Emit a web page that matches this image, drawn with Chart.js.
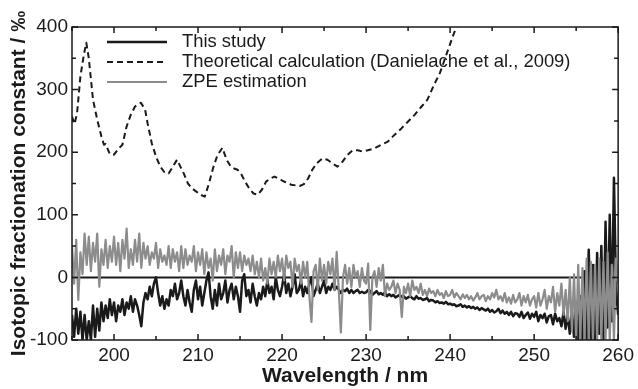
<!DOCTYPE html>
<html>
<head>
<meta charset="utf-8">
<script src="https://cdn.jsdelivr.net/npm/chart.js@4.4.1/dist/chart.umd.min.js"></script>
<style>
  html, body { margin: 0; padding: 0; background: #fff; }
  #wrap { width: 638px; height: 389px; }
</style>
</head>
<body>
<div id="wrap"><canvas id="grafico"></canvas></div>
<script>
// ===========================
// DATOS
// ===========================
// rejilla de longitud de onda para las dos series medidas (nm)
const startNm = 195;
const stepNm = 0.25;

// This study (‰), 4 valores por nm
const thisStudy = [
  -60, -95, -50, -90,   // 195
  -55, -100, -60, -100, // 196
  -70, -100, -45, -95,  // 197
  -50, -85, -40, -70,   // 198
  -45, -65, -35, -60,   // 199
  -40, -70, -45, -55,   // 200
  -35, -60, -40, -50,   // 201
  -30, -55, -35, -45,   // 202
  -60, -78, -40, -25,   // 203
  -35, -15, -30, -10,   // 204
  0, -25, -45, -30,     // 205
  -50, -35, -45, -20,   // 206
  -30, -10, -35, -25,   // 207
  -5, -30, -45, -20,    // 208
  -40, -55, -20, -5,    // 209
  -35, -15, -45, -25,   // 210
  -5, 8, -30, -50,      // 211
  -20, -45, -10, -35,   // 212
  -25, -5, -40, -20,    // 213
  -10, -35, -15, -30,   // 214
  -55, -5, 5, -30,      // 215
  -20, -40, -10, -30,   // 216
  -45, -25, -35, -15,   // 217
  -30, -5, -25, -15,    // 218
  -35, 0, -20, -30,     // 219
  -15, 5, -25, -10,     // 220
  -30, -15, 5, -25,     // 221
  -20, -5, -30, -15,    // 222
  -25, -10, 0, -30,     // 223
  -20, -10, -25, -15,   // 224
  -5, -25, -15, -20,    // 225
  -10, -20, -15, -20,   // 226
  -25, -20, -22, -18,   // 227
  -25, -20, -25, -22,   // 228
  -20, -25, -23, -25,   // 229
  -24, -20, -22, -28,   // 230
  -25, -22, -27, -25,   // 231
  -28, -24, -30, -27,   // 232
  -30, -28, -32, -30,   // 233
  -28, -31, -30, -34,   // 234
  -32, -30, -33, -35,   // 235
  -30, -34, -33, -36,   // 236
  -35, -33, -38, -36,   // 237
  -37, -40, -38, -41,   // 238
  -40, -42, -39, -43,   // 239
  -42, -44, -43, -46,   // 240
  -45, -43, -47, -45,   // 241
  -48, -46, -49, -47,   // 242
  -50, -48, -52, -49,   // 243
  -51, -53, -50, -55,   // 244
  -52, -56, -54, -50,   // 245
  -57, -53, -58, -55,   // 246
  -60, -55, -62, -57,   // 247
  -58, -63, -55, -65,   // 248
  -60, -56, -66, -58,   // 249
  -63, -55, -70, -60,   // 250
  -65, -58, -72, -62,   // 251
  -60, -75, -58, -70,   // 252
  -65, -78, -55, -82,   // 253
  -60, -90, -55, -95,   // 254
  -40, -100, -30, -100, // 255
  10, -100, 44, -100,   // 256
  20, -100, 39, -90,    // 257
  50, -100, 89, -80,    // 258
  100, -70, 159, -20,   // 259
  -60                   // 260
];

// ZPE estimation (‰)
const zpeEstimation = [
  50, -10, 60, -36,     // 195
  40, 5, 70, 20,        // 196
  65, 10, 55, 25,       // 197
  70, -15, 45, 20,      // 198
  60, 15, 50, 25,       // 199
  65, 20, 55, 10,       // 200
  60, 30, 78, 15,       // 201
  45, 20, 60, 25,       // 202
  70, 15, 55, 30,       // 203
  50, 20, 40, 30,       // 204
  55, 15, 45, 25,       // 205
  35, 20, 50, 15,       // 206
  45, 25, 40, 10,       // 207
  50, 15, 45, 20,       // 208
  35, 25, 50, 10,       // 209
  40, 20, 45, 5,        // 210
  40, 15, 30, -5,       // 211
  45, 10, 35, 20,       // 212
  45, 5, 35, 25,        // 213
  50, 0, 40, 15,        // 214
  40, 10, 35, 20,       // 215
  30, 10, 35, 5,        // 216
  25, 0, 30, -5,        // 217
  15, -10, 30, 5,       // 218
  25, 0, 35, 10,        // 219
  30, -5, 35, 15,       // 220
  25, -15, 30, 10,      // 221
  20, -10, 25, 0,       // 222
  25, -30, -71, 10,     // 223
  20, -20, 30, -5,      // 224
  20, -10, 25, 5,       // 225
  30, -20, 41, -20,     // 226
  -88, 0, 20, -10,      // 227
  15, -15, 20, 0,       // 228
  10, -15, 15, -5,      // 229
  -10, 22, -84, 0,      // 230
  10, -15, 15, -5,      // 231
  20, -30, -10, -20,    // 232
  -15, -5, -25, -10,    // 233
  -20, -63, -15, -25,   // 234
  -10, -30, -5, -20,    // 235
  -15, -25, -10, -28,   // 236
  -20, -30, -18, -25,   // 237
  -22, -30, -20, -28,   // 238
  -25, -33, -22, -30,   // 239
  -28, -20, -32, -25,   // 240
  -30, -35, -27, -33,   // 241
  -28, -35, -30, -37,   // 242
  -32, -25, -35, -30,   // 243
  -28, -38, -30, -35,   // 244
  -25, -32, -20, -35,   // 245
  -30, -38, -25, -40,   // 246
  -32, -42, -28, -40,   // 247
  -35, -25, -45, -30,   // 248
  -40, -28, -45, -35,   // 249
  -30, -48, -25, -45,   // 250
  -35, -20, -50, -30,   // 251
  -40, -15, -55, -25,   // 252
  -45, -10, -60, -20,   // 253
  -70, 0, -85, 5,       // 254
  -100, 20, -100, 15,   // 255
  -100, 30, -100, 25,   // 256
  -100, 20, -100, 30,   // 257
  -100, 25, -100, 40,   // 258
  -100, 20, -100, 30,   // 259
  -10                   // 260
];

// Theoretical calculation (Danielache et al., 2009)
const theoryNm = [
  195, 195.3, 195.6, 196, 196.4, 196.7, 197, 197.5, 198, 198.5, 198.8, 199, 199.5,
  200, 200.5, 201, 201.5, 202, 202.5, 203.2, 203.7, 204, 204.5, 205, 205.5, 206,
  206.5, 207, 207.5, 207.9, 208.3, 208.8, 209.3, 209.8, 210.3, 210.8, 211.3, 211.8,
  212.3, 212.9, 213.4, 213.9, 214.3, 214.7, 215.1, 215.6, 216.1, 216.6, 217.1, 217.6,
  218.1, 218.6, 219.1, 219.6, 220.1, 220.6, 221.1, 221.6, 222.1, 222.6, 223.1, 223.6,
  224.1, 224.8, 225.4, 226, 226.6, 227.2, 227.8, 228.4, 229, 229.6, 230.2, 231,
  231.8, 232.6, 233.4, 234.2, 235, 235.8, 236.6, 237.3, 238, 238.8, 239.4, 239.9,
  240.4, 240.9
];
const theoryVal = [
  257, 245, 262, 321, 355, 375, 350, 284, 252, 225, 212, 213, 197,
  196, 205, 212, 241, 260, 273, 279, 268, 246, 214, 193, 177, 168,
  166, 177, 188, 177, 166, 150, 142, 137, 132, 129, 150, 175,
  195, 207, 188, 177, 174, 172, 166, 153, 142, 134, 132, 140,
  153, 158, 161, 158, 154, 151, 148, 147, 146, 149, 158, 172,
  182, 190, 188, 182, 177, 185, 196, 203, 203, 201, 203, 206,
  212, 217, 228, 238, 249, 260, 273, 284, 305, 327, 350, 369,
  388, 405
];

// etiquetas de los ejes
const xTicks = [200, 210, 220, 230, 240, 250, 260];
const yTicks = [-100, 0, 100, 200, 300, 400];
const seriesNames = ["This study", "Theoretical calculation (Danielache et al., 2009)", "ZPE estimation"];

const FONT = "'Liberation Sans', Arial, Helvetica, sans-serif";
const INK = "#1a1a1a";
const GRAY = "#8c8c8c";

function toPoints(values) {
    return values.map((v, i) => ({ x: startNm + i * stepNm, y: v }));
}

// ===========================
// PLUGIN: marco, ticks internos, línea cero y leyenda
// ===========================
const marcoPlugin = {
    id: "marco",
    beforeDatasetsDraw(chart) {
        const { ctx, chartArea: a, scales: { y } } = chart;
        const y0 = y.getPixelForValue(0);
        ctx.save();
        ctx.strokeStyle = INK;
        ctx.lineWidth = 2;
        ctx.beginPath();
        ctx.moveTo(a.left, y0);
        ctx.lineTo(a.right, y0);
        ctx.stroke();
        ctx.restore();
    },
    afterDatasetsDraw(chart) {
        const { ctx, chartArea: a, scales: { x, y } } = chart;
        ctx.save();
        ctx.strokeStyle = INK;
        ctx.lineWidth = 1.5;
        ctx.strokeRect(a.left, a.top, a.right - a.left, a.bottom - a.top);

        ctx.beginPath();
        for (let v = 195; v <= 260; v += 5) {
            const px = x.getPixelForValue(v);
            const len = v % 10 === 0 ? 6 : 4;
            ctx.moveTo(px, a.bottom); ctx.lineTo(px, a.bottom - len);
            ctx.moveTo(px, a.top); ctx.lineTo(px, a.top + len);
        }
        for (let v = -100; v <= 400; v += 50) {
            const py = y.getPixelForValue(v);
            const len = v % 100 === 0 ? 6 : 4;
            ctx.moveTo(a.left, py); ctx.lineTo(a.left + len, py);
            ctx.moveTo(a.right, py); ctx.lineTo(a.right - len, py);
        }
        ctx.stroke();

        // leyenda
        const estilos = [
            { color: INK, width: 2.5, dash: [] },
            { color: INK, width: 2, dash: [6, 4] },
            { color: GRAY, width: 2, dash: [] }
        ];
        ctx.font = "18.4px " + FONT;
        ctx.textBaseline = "middle";
        ctx.fillStyle = INK;
        seriesNames.forEach((name, i) => {
            const ly = a.top + 15 + i * 20;
            ctx.strokeStyle = estilos[i].color;
            ctx.lineWidth = estilos[i].width;
            ctx.setLineDash(estilos[i].dash);
            ctx.beginPath();
            ctx.moveTo(a.left + 35, ly);
            ctx.lineTo(a.left + 95, ly);
            ctx.stroke();
            ctx.fillText(name, a.left + 110, ly);
        });
        ctx.restore();
    }
};

// ===========================
// GRÁFICO
// ===========================
function renderChart() {
    const ctx = document.getElementById("grafico").getContext("2d");

    new Chart(ctx, {
        type: "line",
        data: {
            datasets: [
                {
                    label: seriesNames[0],
                    data: toPoints(thisStudy),
                    borderColor: INK,
                    borderWidth: 2.5,
                    order: 3
                },
                {
                    label: seriesNames[1],
                    data: theoryNm.map((nm, i) => ({ x: nm, y: theoryVal[i] })),
                    borderColor: INK,
                    borderWidth: 2,
                    borderDash: [6, 4],
                    order: 1
                },
                {
                    label: seriesNames[2],
                    data: toPoints(zpeEstimation),
                    borderColor: GRAY,
                    borderWidth: 2.2,
                    order: 2
                }
            ]
        },
        options: {
            responsive: true,
            maintainAspectRatio: false,
            animation: false,
            layout: { padding: { top: 27, right: 19, left: 0, bottom: 0 } },
            elements: {
                point: { radius: 0 },
                line: { tension: 0, borderJoinStyle: "round" }
            },
            plugins: {
                legend: { display: false },
                tooltip: { enabled: false }
            },
            scales: {
                x: {
                    type: "linear",
                    min: 195,
                    max: 260,
                    grid: { display: false, drawTicks: false },
                    border: { display: false },
                    afterBuildTicks: s => { s.ticks = xTicks.map(v => ({ value: v })); },
                    afterFit: s => { s.height = 49; },
                    ticks: {
                        color: INK,
                        padding: 4,
                        maxRotation: 0,
                        font: { family: FONT, size: 19 }
                    },
                    title: {
                        display: true,
                        text: "Wavelength / nm",
                        color: INK,
                        padding: { top: 0, bottom: 0 },
                        font: { family: FONT, size: 21, weight: "bold" }
                    }
                },
                y: {
                    min: -100,
                    max: 400,
                    grid: { display: false, drawTicks: false },
                    border: { display: false },
                    afterBuildTicks: s => { s.ticks = yTicks.map(v => ({ value: v })); },
                    afterFit: s => { s.width = 72; },
                    ticks: {
                        color: INK,
                        padding: 4,
                        font: { family: FONT, size: 19 }
                    },
                    title: {
                        display: true,
                        text: "Isotopic fractionation constant / ‰",
                        color: INK,
                        padding: { top: 7, bottom: 0 },
                        font: { family: FONT, size: 21, weight: "bold" }
                    }
                }
            }
        },
        plugins: [marcoPlugin]
    });
}

document.addEventListener("DOMContentLoaded", renderChart);
</script>
</body>
</html>
